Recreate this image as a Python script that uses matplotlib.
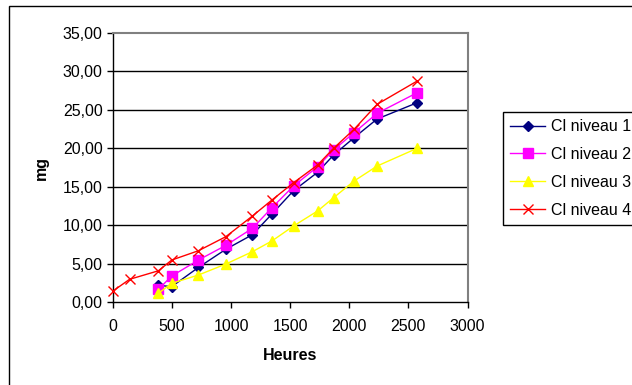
import matplotlib
matplotlib.use("Agg")
import matplotlib.pyplot as plt
from matplotlib.patches import Rectangle
from matplotlib.ticker import FuncFormatter, MultipleLocator

plt.rcParams['font.family'] = ['Liberation Sans', 'DejaVu Sans']

# Sampling times (hours)
heures = [384, 497, 723, 955, 1180, 1345, 1528, 1731, 1867, 2040, 2235, 2574]
heures_n4 = [0, 140] + heures

# Cumulative chloride release (mg)
cl_niveau_1 = [2.17, 2.00, 4.50, 6.86, 8.76, 11.45, 14.48, 16.87, 19.13, 21.38, 23.81, 25.93]
cl_niveau_2 = [1.65, 3.38, 5.46, 7.37, 9.59, 12.27, 15.09, 17.60, 19.78, 22.03, 24.55, 27.23]
cl_niveau_3 = [1.13, 2.43, 3.51, 4.94, 6.55, 7.94, 9.89, 11.84, 13.57, 15.74, 17.69, 20.00]
cl_niveau_4 = [1.43, 2.95, 4.06, 5.46, 6.67, 8.50, 11.19, 13.27, 15.52, 17.82, 20.00,
               22.47, 25.72, 28.75]

labels = ["Cl niveau 1", "Cl niveau 2", "Cl niveau 3", "Cl niveau 4"]

W, H = 632, 385
fig = plt.figure(figsize=(W / 100, H / 100), dpi=100)
fig.patch.set_facecolor("white")

# outer chart frame
fig.patches.append(Rectangle((9 / W, -0.2), 1.5, 1 - 5.5 / H + 0.2,
                             transform=fig.transFigure, fill=False,
                             edgecolor="black", linewidth=1.0))

ax = fig.add_axes([113 / W, (H - 302) / H, (467.5 - 113) / W, (302 - 33) / H])

ax.plot(heures, cl_niveau_1, color="#000080", lw=1.0, marker="D", ms=5.5,
        mfc="#000080", mec="#000080", label=labels[0], zorder=3, clip_on=False)
ax.plot(heures, cl_niveau_2, color="#FF00FF", lw=1.0, marker="s", ms=6.5,
        mfc="#FF00FF", mec="#FF00FF", label=labels[1], zorder=3, clip_on=False)
ax.plot(heures, cl_niveau_3, color="#FFFF00", lw=1.0, marker="^", ms=7,
        mfc="#FFFF00", mec="#FFFF00", label=labels[2], zorder=3, clip_on=False)
ax.plot(heures_n4, cl_niveau_4, color="#FF0000", lw=1.0, marker="x", ms=7,
        mew=1.0, label=labels[3], zorder=4, clip_on=False)

ax.set_xlim(0, 3000)
ax.set_ylim(0, 35)
ax.xaxis.set_major_locator(MultipleLocator(500))
ax.yaxis.set_major_locator(MultipleLocator(5))
ax.yaxis.set_major_formatter(FuncFormatter(lambda v, p: f"{v:.2f}".replace(".", ",")))

for y in range(5, 35, 5):
    ax.axhline(y, color="black", lw=1.0, zorder=1)

for side in ("left", "bottom"):
    ax.spines[side].set_color("black")
    ax.spines[side].set_linewidth(1.0)
for side in ("top", "right"):
    ax.spines[side].set_color("#808080")
    ax.spines[side].set_linewidth(1.5)

ax.tick_params(axis="both", direction="out", length=4.5, width=1.0,
               labelsize=11.5, colors="black", pad=3)
ax.tick_params(axis="x", pad=8)

ax.set_xlabel("Heures", fontsize=11.5, fontweight="bold", labelpad=10)
ax.set_ylabel("mg", fontsize=11.5, fontweight="bold", labelpad=10)

leg = fig.legend(loc="upper left", bbox_to_anchor=(503 / W, 1 - 112 / H),
                 borderaxespad=0, fontsize=11.5, frameon=True, fancybox=False,
                 framealpha=1, edgecolor="black", handlelength=2.2,
                 handletextpad=0.35, borderpad=0.45, labelspacing=0.8)
leg.get_frame().set_linewidth(1.0)

fig.savefig("out.png", dpi=100)
